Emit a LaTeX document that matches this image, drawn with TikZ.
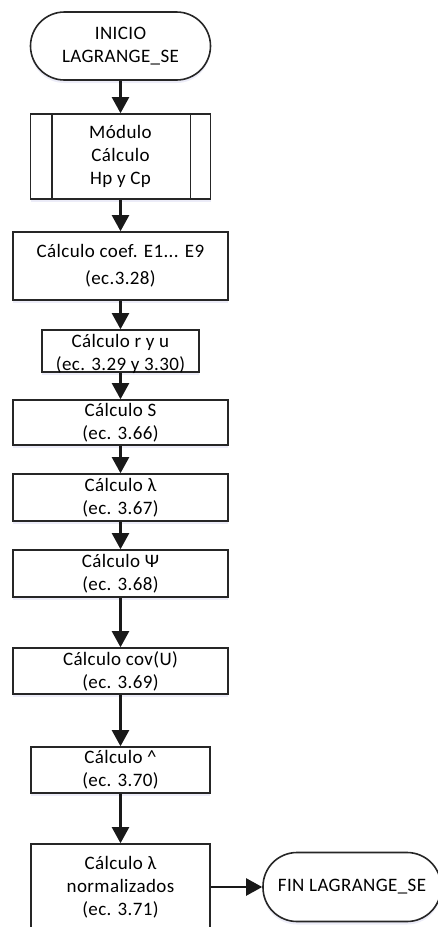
\documentclass[tikz,border=0pt]{standalone}
\usepackage{fontspec}
\setmainfont{Carlito}[LetterSpace=2]
\usetikzlibrary{arrows.meta,calc,shadows}

\begin{document}
\begin{tikzpicture}[x=1pt,y=-1pt,
  font=\fontsize{19}{23}\selectfont,
  softshadow/.style={drop shadow={shadow xshift=0pt,shadow yshift=-3pt,opacity=0.10,fill=blue!45!gray}},
  box/.style={draw=black!85,line width=1.6pt,fill=white,align=center,inner sep=0pt,softshadow},
  term/.style={box,rounded corners=34pt},
  sideline/.style={draw=black!85,line width=1.6pt},
  flow/.style={draw=black!90,line width=2.2pt,-{Triangle[length=16pt,width=17pt]}},
  txt/.style={inner sep=0pt,align=center}
]
\useasboundingbox (0,0) rectangle (437,927);

% start terminal
\node[term,minimum width=180pt,minimum height=68pt] (start) at (120.5,46) {INICIO\\LAGRANGE\_SE};

% predefined process: module
\node[box,minimum width=180pt,minimum height=85pt] (mod) at (120.5,156.5) {Módulo\\Cálculo\\Hp y Cp};
\draw[sideline] ($(mod.north west)+(22,0)$) -- ($(mod.south west)+(22,0)$);
\draw[sideline] ($(mod.north east)+(-21,0)$) -- ($(mod.south east)+(-21,0)$);

% process boxes
\node[box,minimum width=215pt,minimum height=68pt] (coef) at (120.5,266) {Cálculo coef. E1... E9\\[4pt](ec.3.28)};
\node[box,minimum width=157pt,minimum height=42pt] (ryu) at (120.5,351) {};
\node[txt] (ryut) at (120.5,354) {Cálculo r y u\\(ec. 3.29 y 3.30)};
\node[box,minimum width=215pt,minimum height=45pt] (s) at (120.5,422.5) {Cálculo S\\(ec. 3.66)};
\node[box,minimum width=215pt,minimum height=47pt] (lam) at (120.5,497.5) {Cálculo λ\\(ec. 3.67)};
\node[box,minimum width=215pt,minimum height=47pt] (psi) at (120.5,573.5) {Cálculo Ψ\\(ec. 3.68)};
\node[box,minimum width=215pt,minimum height=46pt] (cov) at (120.5,671) {Cálculo cov(U)\\(ec. 3.69)};
\node[box,minimum width=179pt,minimum height=46pt] (hat) at (120.5,770) {Cálculo \^{}\\(ec. 3.70)};
\node[box,minimum width=179pt,minimum height=86pt] (norm) at (120.5,887) {Cálculo λ\\normalizados\\(ec. 3.71)};

% end terminal
\node[term,minimum width=178pt,minimum height=69pt] (fin) at (352,887) {FIN LAGRANGE\_SE};

% connectors
\draw[flow] (start) -- (mod);
\draw[flow] (mod) -- (coef);
\draw[flow] (coef) -- (ryu);
\draw[flow] (ryu) -- (s);
\draw[flow] (s) -- (lam);
\draw[flow] (lam) -- (psi);
\draw[flow] (psi) -- (cov);
\draw[flow] (cov) -- (hat);
\draw[flow] (hat) -- (norm);
\draw[flow] (norm) -- (fin);
\end{tikzpicture}
\end{document}
